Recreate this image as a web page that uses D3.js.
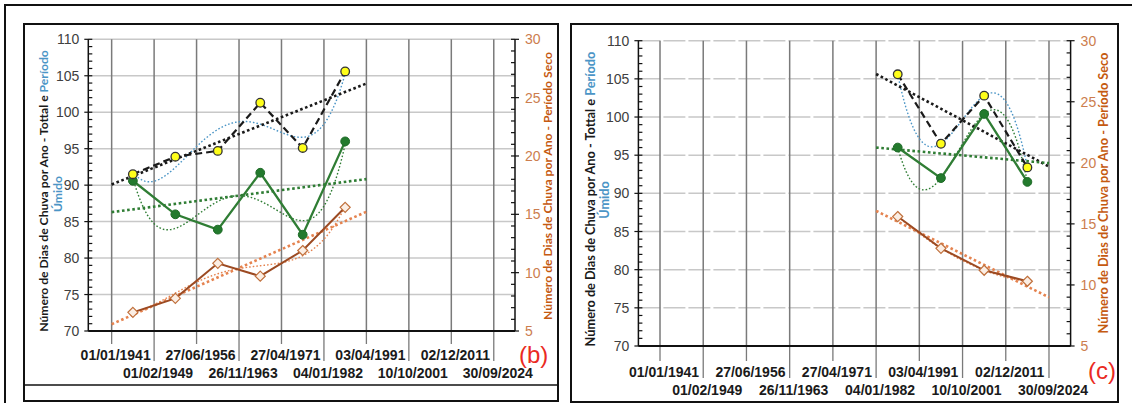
<!DOCTYPE html>
<html><head><meta charset="utf-8">
<script src="https://cdn.jsdelivr.net/npm/d3@7"></script>
<style>body{margin:0;background:#fff}svg{display:block}</style>
</head><body>
<svg id="chart" width="1132" height="403"></svg>
<script>
// ---------- DATA ----------
const dateLabels = ["01/01/1941","01/02/1949","27/06/1956","26/11/1963","27/04/1971","04/01/1982","03/04/1991","10/10/2001","02/12/2011","30/09/2024"];
const leftTicks = [70,75,80,85,90,95,100,105,110];
const rightTicks = [5,10,15,20,25,30];

// panel (b)
const posB   = [0.5,1.5,2.5,3.5,4.5,5.5];
const totalB = [91.5,93.9,94.7,101.3,95.1,105.6];
const wetB   = [90.6,86.0,83.9,91.7,83.2,96.0];
const dryB   = [6.6,7.8,10.8,9.7,11.9,15.6];
// panel (c)
const posC   = [5.5,6.5,7.5,8.5];
const totalC = [105.6,96.5,102.8,93.4];
const wetC   = [96.0,92.0,100.4,91.5];
const dryC   = [15.6,13.0,11.2,10.3];

const leftTitle1a = "Número de Dias de Chuva por Ano - Tottal e ";
const leftTitle1b = "Período";
const leftTitle2  = "Úmido";
const rightTitle  = "Número de Dias de Chuva por Ano - Período Seco";

// ---------- helpers ----------
function linFit(xs, ys){
  const n=xs.length, mx=d3.mean(xs), my=d3.mean(ys);
  let sxy=0,sxx=0; for(let i=0;i<n;i++){sxy+=(xs[i]-mx)*(ys[i]-my);sxx+=(xs[i]-mx)**2;}
  const b=sxy/sxx; return x=>my+b*(x-mx);
}
function polyFit(xs, ys, deg){
  const mx=d3.mean(xs), m=deg+1;
  const A=[...Array(m)].map(()=>Array(m+1).fill(0));
  xs.forEach((x,k)=>{const u=x-mx;for(let i=0;i<m;i++){for(let j=0;j<m;j++)A[i][j]+=Math.pow(u,i+j);A[i][m]+=ys[k]*Math.pow(u,i);}});
  for(let i=0;i<m;i++){let p=i;for(let r=i+1;r<m;r++)if(Math.abs(A[r][i])>Math.abs(A[p][i]))p=r;[A[i],A[p]]=[A[p],A[i]];
    for(let r=0;r<m;r++){if(r===i)continue;const f=A[r][i]/A[i][i];for(let c=i;c<=m;c++)A[r][c]-=f*A[i][c];}}
  const co=A.map((row,i)=>row[m]/row[i]);
  return x=>{const u=x-mx;let s=0;for(let i=m-1;i>=0;i--)s=s*u+co[i];return s;};
}

const svg=d3.select("#chart");
// outer page frame
svg.append("path").attr("d","M5,403V5H1132").attr("fill","none").attr("stroke","#111").attr("stroke-width",2);

const panels=[
 {name:"(b)", frame:[24,24,558,401], sepY:385, xr:[88.3,515], xd:[-0.55,9.5], yr:[331,39.3],
  pos:posB,total:totalB,wet:wetB,dry:dryB, ext:[0,6], deg:4, rows:[360,378], hDash:null,
  lt1:[43.5,191,282], lt2:[58,194], rt:[548,186,268], tag:[519,363]},
 {name:"(c)", frame:[571,24,1118,402], sepY:null, xr:[638.4,1070.6], xd:[-0.5,9.5], yr:[346,40.7],
  pos:posC,total:totalC,wet:wetC,dry:dryC, ext:[5,9], deg:3, rows:[377,395], hDash:"22,3",
  lt1:[591,199,295], lt2:[605,200], rt:[1104,193,281], tag:[1088,379]}
];

const cBlack="#1a1a1a", cGreen="#2f7d34", cBrown="#9c4a22", cOrange="#e5834f", cBlue="#4b95c6";
const narrow="'Liberation Sans Narrow','Arial Narrow',sans-serif";
const titleFont="Lato,'Liberation Sans',Arial,sans-serif";

panels.forEach(P=>{
  const g=svg.append("g");
  const [fx0,fy0,fx1,fy1]=P.frame;
  g.append("rect").attr("x",fx0).attr("y",fy0).attr("width",fx1-fx0).attr("height",fy1-fy0)
    .attr("fill","none").attr("stroke","#111").attr("stroke-width",2);
  if(P.sepY) g.append("line").attr("x1",fx0).attr("x2",fx1).attr("y1",P.sepY).attr("y2",P.sepY).attr("stroke","#111").attr("stroke-width",1.5);

  const x=d3.scaleLinear().domain(P.xd).range(P.xr);
  const yL=d3.scaleLinear().domain([70,110]).range(P.yr);
  const yR=d3.scaleLinear().domain([5,30]).range(P.yr);
  const [xa,xb]=P.xr, yb=P.yr[0], yt=P.yr[1];

  // horizontal gridlines
  g.selectAll(".hg").data(leftTicks.slice(1)).join("line")
    .attr("x1",xa).attr("x2",xb).attr("y1",d=>yL(d)).attr("y2",d=>yL(d))
    .attr("stroke","#c8c8c8").attr("stroke-width",1.5).attr("stroke-dasharray",P.hDash);
  // vertical gridlines
  const idx=d3.range(dateLabels.length);
  g.selectAll(".vg").data(idx).join("line")
    .attr("x1",d=>x(d)).attr("x2",d=>x(d)).attr("y1",yt).attr("y2",yb)
    .attr("stroke","#7a7a7a").attr("stroke-width",1.5);
  // leader lines below axis
  g.selectAll(".ld").data(idx).join("line")
    .attr("x1",d=>x(d)).attr("x2",d=>x(d)).attr("y1",yb)
    .attr("y2",d=>d%2===0?P.rows[0]-16:P.rows[1]-17)
    .attr("stroke","#7a7a7a").attr("stroke-width",1.3);
  // date labels
  g.selectAll(".dl").data(idx).join("text")
    .attr("x",d=>x(d)+4).attr("y",d=>d%2===0?P.rows[0]:P.rows[1])
    .attr("text-anchor","middle").attr("font-family",narrow).attr("font-weight","bold")
    .attr("font-size",14).attr("fill","#1a1a1a").text(d=>dateLabels[d]);

  // axes lines
  g.append("line").attr("x1",xa).attr("x2",xb).attr("y1",yb).attr("y2",yb).attr("stroke","#111").attr("stroke-width",2);
  g.append("line").attr("x1",xa).attr("x2",xa).attr("y1",yt).attr("y2",yb).attr("stroke","#111").attr("stroke-width",1.5);
  g.append("line").attr("x1",xb).attr("x2",xb).attr("y1",yt).attr("y2",yb).attr("stroke","#111").attr("stroke-width",1.5);
  // ticks
  g.selectAll(".lmin").data(d3.range(70,111)).join("line")
    .attr("x1",d=>d%5===0?xa-4:xa).attr("x2",xa+4).attr("y1",d=>yL(d)).attr("y2",d=>yL(d))
    .attr("stroke","#111").attr("stroke-width",1.2);
  g.selectAll(".rmin").data(d3.range(5,31)).join("line")
    .attr("x1",xb-4).attr("x2",d=>d%5===0?xb+4:xb).attr("y1",d=>yR(d)).attr("y2",d=>yR(d))
    .attr("stroke","#111").attr("stroke-width",1.2);
  g.selectAll(".ltl").data(leftTicks).join("text")
    .attr("x",xa-9).attr("y",d=>yL(d)).attr("dy","0.36em").attr("text-anchor","end")
    .attr("font-family",narrow).attr("font-size",14).attr("fill","#404040").text(d=>d);
  g.selectAll(".rtl").data(rightTicks).join("text")
    .attr("x",xb+10).attr("y",d=>yR(d)).attr("dy","0.36em").attr("text-anchor","start")
    .attr("font-family",narrow).attr("font-size",14).attr("fill","#cc7d4e").text(d=>d);

  // axis titles
  function fitTitle(t,target){
    let fs=11; t.attr("font-size",fs);
    const L=t.node().getComputedTextLength(); fs=fs*target/L; t.attr("font-size",fs); return fs;
  }
  const t1=g.append("text").attr("transform",`translate(${P.lt1[0]},${P.lt1[1]}) rotate(-90)`)
    .attr("text-anchor","middle").attr("dy","0.35em").attr("font-family",titleFont).attr("font-weight","bold");
  t1.append("tspan").attr("fill","#1a1a1a").text(leftTitle1a);
  t1.append("tspan").attr("fill",cBlue).text(leftTitle1b);
  const fs=fitTitle(t1,P.lt1[2]);
  g.append("text").attr("transform",`translate(${P.lt2[0]},${P.lt2[1]}) rotate(-90)`)
    .attr("text-anchor","middle").attr("dy","0.35em").attr("font-family",titleFont).attr("font-weight","bold")
    .attr("font-size",fs).attr("fill",cBlue).text(leftTitle2);
  const t3=g.append("text").attr("transform",`translate(${P.rt[0]},${P.rt[1]}) rotate(-90)`)
    .attr("text-anchor","middle").attr("dy","0.35em").attr("font-family",titleFont).attr("font-weight","bold")
    .attr("fill","#c55a11").text(rightTitle);
  fitTitle(t3,P.rt[2]);

  // trendlines
  const xsPoly=d3.range(P.pos[0],P.pos[P.pos.length-1]+0.001,0.02);
  function drawFn(fn,xsArr,ys,col,w,dash){
    g.append("path").datum(xsArr).attr("fill","none").attr("stroke",col).attr("stroke-width",w)
      .attr("stroke-dasharray",dash).attr("d",d3.line().x(d=>x(d)).y(d=>ys(fn(d))));
  }
  drawFn(polyFit(P.pos,P.total,P.deg),xsPoly,yL,cBlue,1.4,"1.6,2");
  drawFn(polyFit(P.pos,P.wet,P.deg),xsPoly,yL,cGreen,1.4,"1.6,2");
  drawFn(polyFit(P.pos,P.dry,P.deg),xsPoly,yR,cOrange,1.4,"1.6,2");
  drawFn(linFit(P.pos,P.total),[P.ext[0],P.ext[1]],yL,cBlack,2.6,"2.6,2.6");
  drawFn(linFit(P.pos,P.wet),[P.ext[0],P.ext[1]],yL,cGreen,2.6,"2.6,2.6");
  drawFn(linFit(P.pos,P.dry),[P.ext[0],P.ext[1]],yR,cOrange,2.6,"2.6,2.6");

  // series lines
  const series=(vals,ys)=>P.pos.map((p,i)=>[x(p),ys(vals[i])]);
  g.append("path").attr("d",d3.line()(series(P.dry,yR))).attr("fill","none").attr("stroke",cBrown).attr("stroke-width",2);
  g.append("path").attr("d",d3.line()(series(P.wet,yL))).attr("fill","none").attr("stroke",cGreen).attr("stroke-width",2.3);
  g.append("path").attr("d",d3.line()(series(P.total,yL))).attr("fill","none").attr("stroke",cBlack).attr("stroke-width",2.2).attr("stroke-dasharray","7,4");

  // markers
  g.selectAll(".dm").data(series(P.dry,yR)).join("path")
    .attr("d",d3.symbol(d3.symbolDiamond2,64)).attr("transform",d=>`translate(${d[0]},${d[1]})`)
    .attr("fill","#fbeee4").attr("stroke","#c0703c").attr("stroke-width",1.2);
  g.selectAll(".wm").data(series(P.wet,yL)).join("circle")
    .attr("cx",d=>d[0]).attr("cy",d=>d[1]).attr("r",4.4).attr("fill","#237a2d").attr("stroke","#1d6a26").attr("stroke-width",1);
  g.selectAll(".tm").data(series(P.total,yL)).join("circle")
    .attr("cx",d=>d[0]).attr("cy",d=>d[1]).attr("r",4.3).attr("fill","#ffff1a").attr("stroke","#333").attr("stroke-width",1.3);

  // panel tag
  g.append("text").attr("x",P.tag[0]).attr("y",P.tag[1]).attr("font-family","'Liberation Sans',Arial,sans-serif")
    .attr("font-size",24).attr("fill","#ea2a22").text(P.name);
});
</script>
</body></html>
